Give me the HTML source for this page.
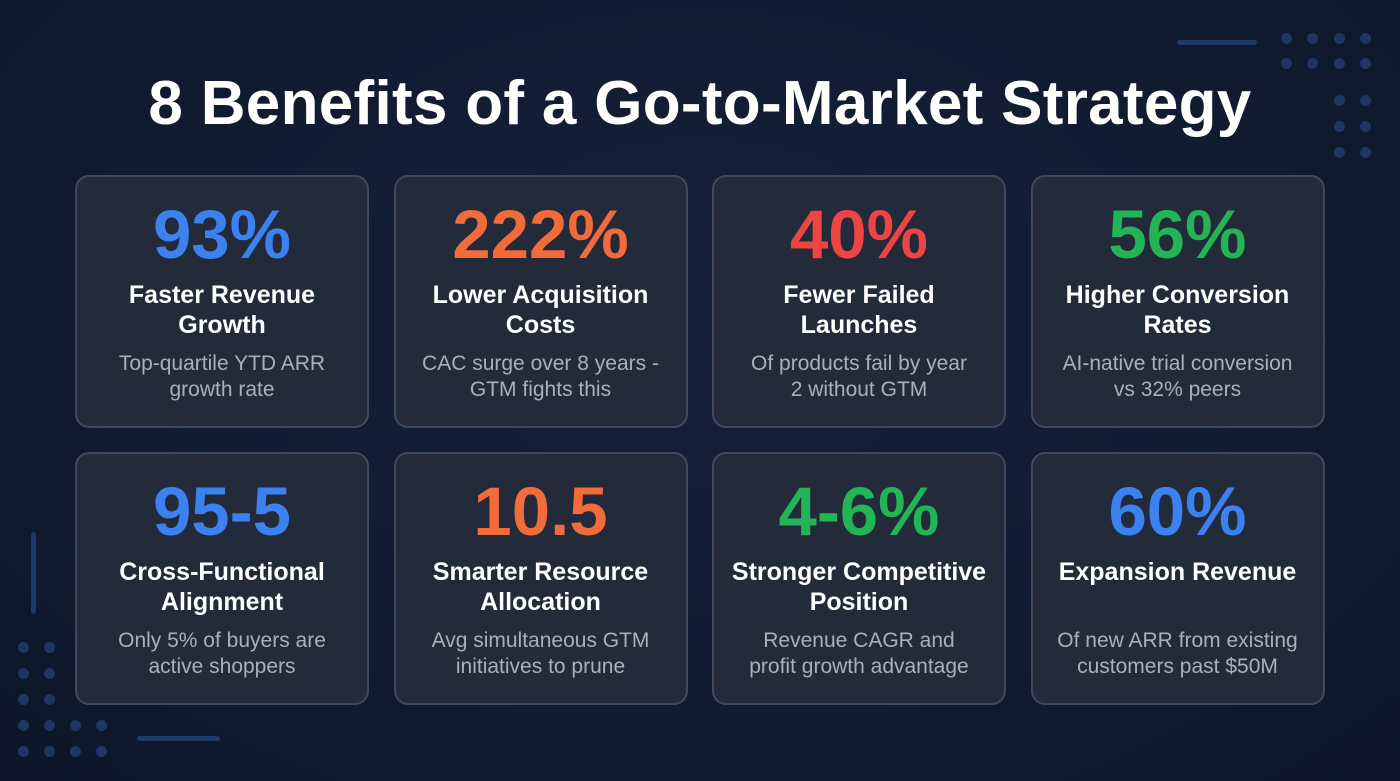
<!DOCTYPE html>
<html><head><meta charset="utf-8"><style>
*{margin:0;padding:0;box-sizing:border-box}
body{width:1400px;height:781px;overflow:hidden;background:radial-gradient(ellipse at 50% 40%,#16213a 0%,#0f1a2e 70%,#0c1628 100%);font-family:"Liberation Sans",sans-serif;position:relative}
h1{position:absolute;left:0;width:1400px;top:68px;text-align:center;color:#fff;font-size:62px;font-weight:bold;letter-spacing:0.3px}
.card{position:absolute;width:294px;height:253px;background:#232a3a;border:2px solid #3f4a5e;border-radius:14px;text-align:center}
.num{position:absolute;top:18px;width:100%;font-size:69px;font-weight:bold;line-height:80px}
.t{position:absolute;top:103px;width:100%;color:#fff;font-size:25px;font-weight:bold;line-height:30px;white-space:nowrap}
.d{position:absolute;top:174px;width:100%;color:#a9b0bd;font-size:21px;line-height:26px;white-space:nowrap}
.dot{position:absolute;width:11px;height:11px;border-radius:50%;background:#1f3660}
.ln{position:absolute;background:#1f3a66;border-radius:3px}
</style></head><body>
<h1>8 Benefits of a Go-to-Market Strategy</h1>
<div class="ln" style="left:1177px;top:40px;width:80px;height:5px"></div>
<div class="ln" style="left:31px;top:532px;width:5px;height:82px"></div>
<div class="ln" style="left:137px;top:736px;width:83px;height:5px"></div>
<div id="dots"></div>
<div id="cards"></div>
<script>
const values=["93%","222%","40%","56%","95-5","10.5","4-6%","60%"];
const titles=["Faster Revenue<br>Growth","Lower Acquisition<br>Costs","Fewer Failed<br>Launches","Higher Conversion<br>Rates","Cross-Functional<br>Alignment","Smarter Resource<br>Allocation","Stronger Competitive<br>Position","Expansion Revenue"];
const descs=["Top-quartile YTD ARR<br>growth rate","CAC surge over 8 years -<br>GTM fights this","Of products fail by year<br>2 without GTM","AI-native trial conversion<br>vs 32% peers","Only 5% of buyers are<br>active shoppers","Avg simultaneous GTM<br>initiatives to prune","Revenue CAGR and<br>profit growth advantage","Of new ARR from existing<br>customers past $50M"];
const colors=["#3b82f0","#f26b3a","#ef4444","#22b455","#3b82f0","#f26b3a","#22b455","#3b82f0"];
const cont=document.getElementById('cards');
values.forEach((v,i)=>{
  const c=document.createElement('div');c.className='card';
  
  
  c.style.left=(75+(i%4)*318.5)+'px';c.style.top=(i<4?175:452)+'px';
  c.innerHTML=`<div class="num" style="color:${colors[i]}">${v}</div><div class="t">${titles[i]}</div><div class="d">${descs[i]}</div>`;
  cont.appendChild(c);
});
const dpos=[[1286,38],[1312,38],[1339,38],[1365,38],[1286,63],[1312,63],[1339,63],[1365,63],[1339,100],[1365,100],[1339,126],[1365,126],[1339,152],[1365,152],[23,647],[49,647],[23,673],[49,673],[23,699],[49,699],[23,725],[49,725],[75,725],[101,725],[23,751],[49,751],[75,751],[101,751]];
const dc=document.getElementById('dots');
dpos.forEach(p=>{const d=document.createElement('div');d.className='dot';


d.style.left=(p[0]-5)+'px';d.style.top=(p[1]-5)+'px';dc.appendChild(d);});
</script>
</body></html>
